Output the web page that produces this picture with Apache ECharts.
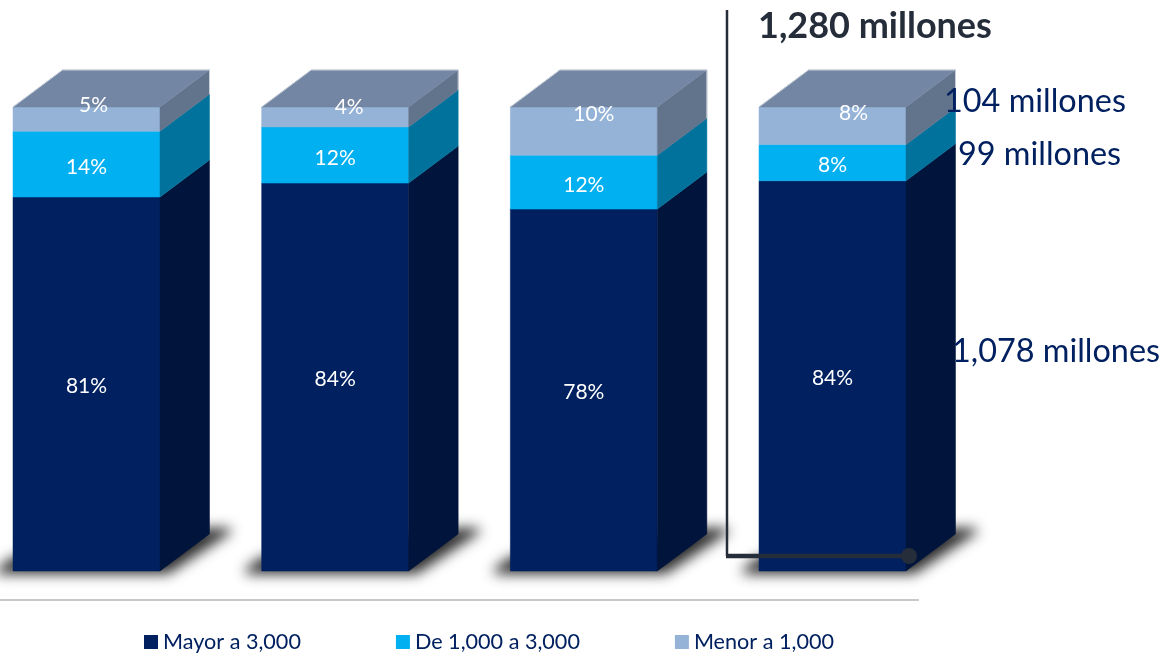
<!DOCTYPE html>
<html>
<head>
<meta charset="utf-8">
<style>html,body{margin:0;padding:0;background:#fff}#c{width:1166px;height:653px}</style>
<script src="https://cdn.jsdelivr.net/npm/echarts@6/dist/echarts.min.js"></script>
</head>
<body>
<div id="c"></div>
<script>
const categories = [0, 1, 2, 3];
const mayor = [80.6, 83.6, 78.0, 84.1];
const medio = [14.2, 12.1, 11.6, 7.8];
const menor = [5.2, 4.3, 10.4, 8.1];
const seriesNames = ['Mayor a 3,000', 'De 1,000 a 3,000', 'Menor a 1,000'];
const totalLabel = '1,280 millones';
const sideLabels = ['104 millones', '99 millones', '1,078 millones'];

const DX = 49.5, DY = -37, BAR_W = 147, FONT = 'Lato, "Open Sans", sans-serif';
const topLabelShift = [[7, -14], [14, -10], [10, -17], [21, -13]];
const levelLabelShift = [[0, 2], [0, 3]];
const styles = [
  { front: '#002060', side: '#00143C' },
  { front: '#00B0F0', side: '#00729C' },
  { front: '#95B3D7', side: '#62738C' }
];
const stacks = [mayor, medio, menor];
const edge = '#C9D0DA';

function poly(points, fill, stroke) {
  return { type: 'polygon', shape: { points }, style: { fill, stroke: stroke || fill, lineWidth: stroke ? 1 : 0.5 } };
}

function segmentSeries(level) {
  const rows = categories.map((c, i) => {
    let base = 0;
    for (let k = 0; k < level; k++) base += stacks[k][i];
    return [c, base, base + stacks[level][i], stacks[level][i]];
  });
  return {
    type: 'custom', name: seriesNames[level], z: 3,
    itemStyle: { color: styles[level].front },
    data: rows,
    renderItem(params, api) {
      const i = api.value(0);
      const cx = api.coord([i, 0])[0];
      const x0 = cx - BAR_W / 2, x1 = cx + BAR_W / 2;
      const yB = api.coord([i, api.value(1)])[1];
      const yT = api.coord([i, api.value(2)])[1];
      const kids = [
        poly([[x0, yT], [x1, yT], [x1, yB], [x0, yB]], styles[level].front),
        poly([[x1, yT], [x1 + DX, yT + DY], [x1 + DX, yB + DY], [x1, yB]], styles[level].side)
      ];
      if (level === 2) {
        kids.push(poly([[x0, yT], [x0 + DX, yT + DY], [x1 + DX, yT + DY], [x1, yT]], '#7386A3'));
        kids.push({ type: 'polyline', shape: { points: [[x0, yT], [x0 + DX, yT + DY], [x1 + DX, yT + DY], [x1 + DX, yB + DY]] },
          style: { fill: null, stroke: edge, lineWidth: 1 } });
      }
      const sh = level === 2 ? topLabelShift[i] : levelLabelShift[level];
      kids.push({
        type: 'text', z2: 50,
        style: {
          text: Math.round(api.value(3)) + '%',
          x: cx + sh[0], y: (yT + yB) / 2 + sh[1],
          fill: '#fff', font: '21px ' + FONT, align: 'center', verticalAlign: 'middle'
        }
      });
      return { type: 'group', children: kids };
    }
  };
}

const OFF = 3000;
const shadowSeries = {
  type: 'custom', name: 'sombra', z: 1, silent: true,
  data: categories.map(c => [c, 0]),
  renderItem(params, api) {
    const p = api.coord([api.value(0), 0]);
    const x0 = p[0] - BAR_W / 2, x1 = p[0] + BAR_W / 2, y = p[1];
    const pts = [[x0, y - 14], [x0 - 16, y - 2], [x0 - 16, y + 3], [x1 + 8, y + 3], [x1 + DX + 22, y + DY - 2], [x1 + DX + 20, y + DY - 6], [x1 + DX, y + DY - 6]];
    return {
      type: 'polygon',
      shape: { points: pts.map(q => [q[0] - OFF, q[1]]) },
      style: { fill: '#333', shadowBlur: 13, shadowColor: '#2E2E2E', shadowOffsetX: OFF }
    };
  }
};

function label(text, x, y, size, color, weight) {
  return { type: 'text', z: 20, silent: true,
    style: { text, x, y, fill: color, font: (weight || 'normal') + ' ' + size + 'px ' + FONT, align: 'left', verticalAlign: 'middle' } };
}

const chart = echarts.init(document.getElementById('c'), null, { renderer: 'canvas' });
chart.setOption({
  animation: false,
  backgroundColor: '#fff',
  grid: { left: 0, top: 107, width: 1166, height: 464 },
  xAxis: { type: 'value', min: -0.3479, max: 4.3411, show: false },
  yAxis: { type: 'value', min: 0, max: 100, show: false },
  legend: {
    data: seriesNames, left: 144, top: 631, itemWidth: 14, itemHeight: 14, itemGap: 95,
    icon: 'rect', selectedMode: false, padding: 0,
    textStyle: { color: '#002060', fontSize: 21.6, fontFamily: FONT }
  },
  graphic: { elements: [
    { type: 'line', z: 20, silent: true, shape: { x1: 0, y1: 600, x2: 919, y2: 600 }, style: { stroke: '#C8C8C8', lineWidth: 2 } },
    { type: 'line', z: 20, silent: true, shape: { x1: 727, y1: 10, x2: 727, y2: 556 }, style: { stroke: '#252D3A', lineWidth: 2.5 } },
    { type: 'line', z: 20, silent: true, shape: { x1: 726, y1: 556, x2: 909, y2: 556 }, style: { stroke: '#252D3A', lineWidth: 4.5 } },
    { type: 'circle', z: 20, silent: true, shape: { cx: 909, cy: 556, r: 8 }, style: { fill: '#252D3A' } },
    label(totalLabel, 758, 26, 36, '#252D3A', 'bold'),
    label(sideLabels[0], 944, 102, 32.4, '#002060'),
    label(sideLabels[1], 958, 155, 32.4, '#002060'),
    label(sideLabels[2], 952, 352, 32.4, '#002060')
  ] },
  series: [shadowSeries, segmentSeries(0), segmentSeries(1), segmentSeries(2)]
});
</script>
</body>
</html>
